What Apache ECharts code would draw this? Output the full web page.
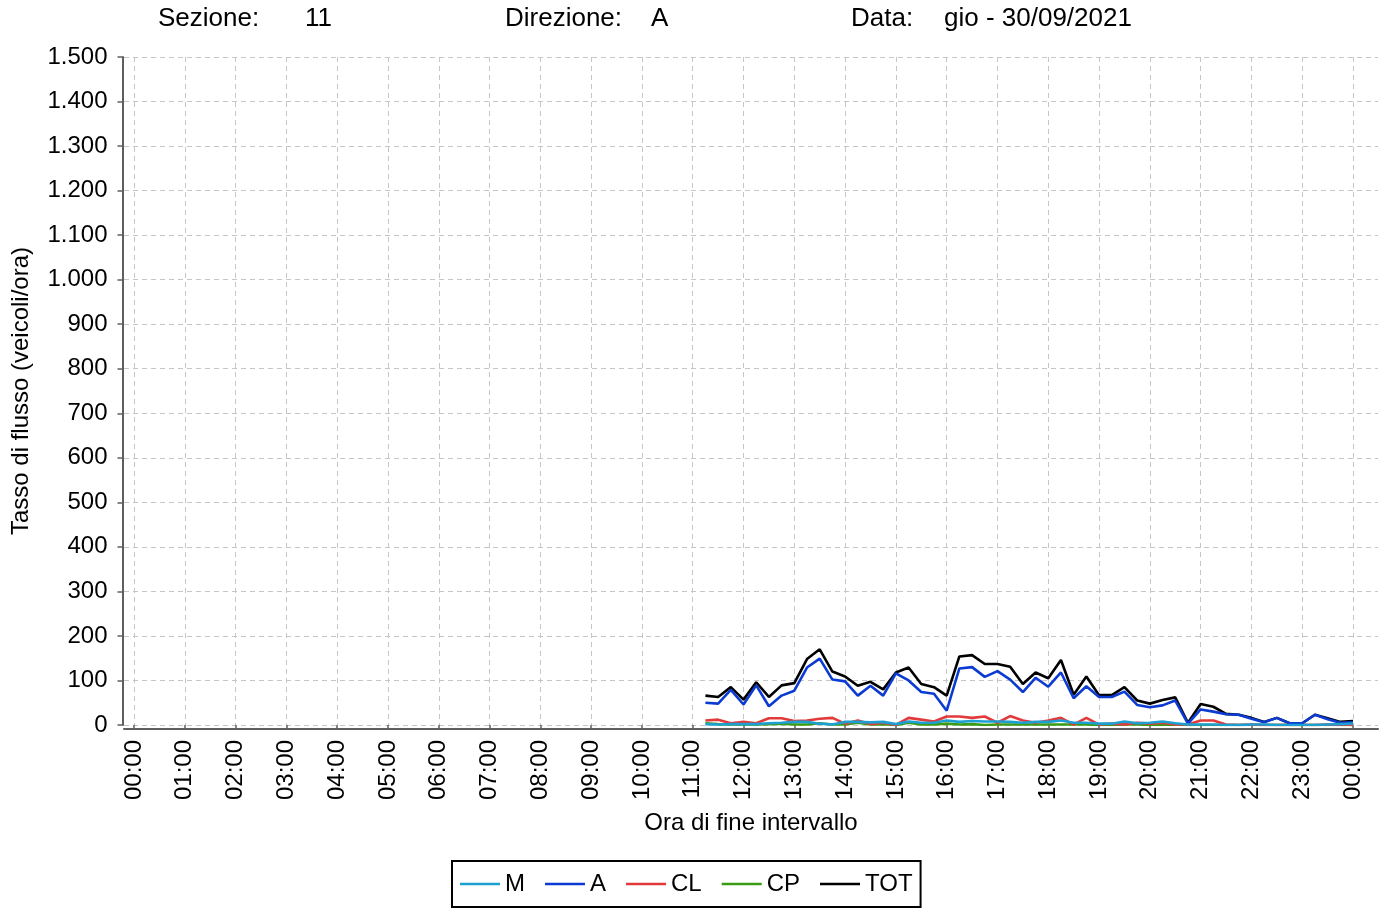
<!DOCTYPE html>
<html>
<head>
<meta charset="utf-8">
<script src="https://cdn.jsdelivr.net/npm/echarts@6/dist/echarts.min.js"></script>
<style>
html,body{margin:0;padding:0;background:#fff;}
#chart{width:1386px;height:908px;}
</style>
</head>
<body>
<div id="chart"></div>
<script>
// ---- data (hourly flow rate, vehicles/hour, end of 15-min interval) ----
const times = ['11:15','11:30','11:45','12:00','12:15','12:30','12:45','13:00','13:15','13:30','13:45','14:00',
  '14:15','14:30','14:45','15:00','15:15','15:30','15:45','16:00','16:15','16:30','16:45','17:00',
  '17:15','17:30','17:45','18:00','18:15','18:30','18:45','19:00','19:15','19:30','19:45','20:00',
  '20:15','20:30','20:45','21:00','21:15','21:30','21:45','22:00','22:15','22:30','22:45','23:00',
  '23:15','23:30','23:45','24:00'];
const M   = [2,1,2,2,2,4,5,7,7,3,1,7, 7,6,7,2,8,5,5,10,7,9,8,8, 7,5,7,7,10,5,5,3,3,8,4,5, 8,4,1,1,1,0,0,1,1,0,0,0, 0,1,2,3];
const A   = [50,48,79,46,89,42,66,77,129,149,102,98, 66,88,66,116,100,74,70,32,127,130,108,121, 102,74,106,86,118,60,87,63,63,75,45,40, 44,55,3,35,30,24,23,14,6,16,4,4, 23,13,5,6];
const CL  = [10,12,4,7,4,15,15,9,10,14,16,3, 10,2,5,0,16,12,8,19,19,16,19,5, 20,10,5,10,16,1,16,1,3,1,5,3, 5,1,1,10,10,1,0,1,0,0,0,0, 0,1,0,0];
const CP  = [4,2,1,1,1,2,3,1,1,4,1,1, 5,1,2,0,5,1,1,3,1,2,0,1, 1,1,1,1,1,1,1,0,0,1,1,0, 0,1,0,0,0,0,0,0,0,0,0,0, 0,0,0,0];
const TOT = [66,63,85,57,96,63,89,94,148,170,120,109, 88,97,80,118,129,92,85,66,154,157,137,137, 131,92,118,105,146,68,109,67,67,85,55,48, 56,62,5,47,41,25,23,16,7,16,4,4, 23,15,7,9];
const yTicks = {min:0, max:1500, step:100};
const seriesNames = ['M','A','CL','CP','TOT'];
const seriesColors = {M:'#1e9fd2', A:'#0b3bd3', CL:'#e23a3a', CP:'#3a9c14', TOT:'#000000'};
const seriesData = {M:M, A:A, CL:CL, CP:CP, TOT:TOT};

function toMin(t){const p=t.split(':');return (+p[0])*60+(+p[1]);}
function fmtThousands(v){const s=String(Math.round(v));return s.replace(/\B(?=(\d{3})+(?!\d))/g,'.');}
function fmtTime(m){const h=Math.floor(m/60)%24, mm=m%60;return String(h).padStart(2,'0')+':'+String(mm).padStart(2,'0');}

const FONT = "'Liberation Sans', Arial, Helvetica, sans-serif";
const FS = 24;
const TFS = 26;
const axisCol = '#5f5f5f';
const gridCol = '#c6c6c6';

const chart = echarts.init(document.getElementById('chart'), null, {renderer:'canvas'});

// draw order: JFreeChart-like reverse (M on top)
const drawOrder = ['TOT','CP','CL','A','M'];
const series = drawOrder.map(n => ({
  name: n, type: 'line', xAxisIndex: 0, yAxisIndex: 0,
  data: times.map((t,i)=>[toMin(t), seriesData[n][i]]),
  showSymbol: false, symbol: 'none', animation: false,
  lineStyle: {width: 2.6, color: seriesColors[n]}, itemStyle: {color: seriesColors[n]}
}));

function hdr(x, text){return {type:'text', x:x, y:19, style:{text:text, fontSize:TFS, fontFamily:FONT, fill:'#000', verticalAlign:'middle'}};}

chart.setOption({
  animation: false,
  backgroundColor: '#fff',
  textStyle: {fontFamily: FONT},
  graphic: [hdr(158,'Sezione:'), hdr(305,'11'), hdr(505,'Direzione:'), hdr(651,'A'), hdr(851,'Data:'), hdr(944,'gio - 30/09/2021')],
  grid: [
    {left:124, right:8, top:57, bottom:183},
    {left:134, right:33, top:57, bottom:183}
  ],
  xAxis: [
    {gridIndex:0, type:'value', min:-11.8, max:1469.5, offset:4,
     axisLine:{show:true, onZero:false, lineStyle:{color:axisCol, width:2}},
     axisTick:{show:false}, axisLabel:{show:false}, splitLine:{show:false},
     name:'Ora di fine intervallo', nameLocation:'middle', nameGap:82,
     nameTextStyle:{fontSize:FS, color:'#000', fontFamily:FONT}},
    {gridIndex:1, type:'value', min:0, max:1440, interval:60, offset:4,
     axisLine:{show:false}, axisTick:{show:true, length:5, lineStyle:{color:axisCol, width:1.5}},
     axisLabel:{show:true, rotate:90, margin:11, fontSize:FS, color:'#000', fontFamily:FONT, formatter:v=>fmtTime(v)},
     splitLine:{show:true, lineStyle:{color:gridCol, type:[5,4], width:1}}}
  ],
  yAxis: [
    {gridIndex:0, type:'value', min:yTicks.min, max:yTicks.max, interval:yTicks.step, offset:1.5,
     axisLine:{show:true, onZero:false, lineStyle:{color:axisCol, width:2}},
     axisTick:{show:true, length:5, lineStyle:{color:axisCol, width:1.5}},
     axisLabel:{fontSize:FS, color:'#000', margin:15, fontFamily:FONT, formatter:v=>fmtThousands(v)},
     splitLine:{show:true, lineStyle:{color:gridCol, type:[5,4], width:1}},
     name:'Tasso di flusso (veicoli/ora)', nameLocation:'middle', nameGap:89, nameRotate:90,
     nameTextStyle:{fontSize:FS, color:'#000', fontFamily:FONT}},
    {gridIndex:1, type:'value', min:yTicks.min, max:yTicks.max, show:false}
  ],
  legend: {
    data: seriesNames, left:452, bottom:1, orient:'horizontal',
    icon:'rect', itemWidth:40, itemHeight:2.5, itemGap:20,
    padding:[11,8], borderColor:'#000', borderWidth:2,
    textStyle:{fontSize:FS, color:'#000', fontFamily:FONT}
  },
  series: series
});
</script>
</body>
</html>
